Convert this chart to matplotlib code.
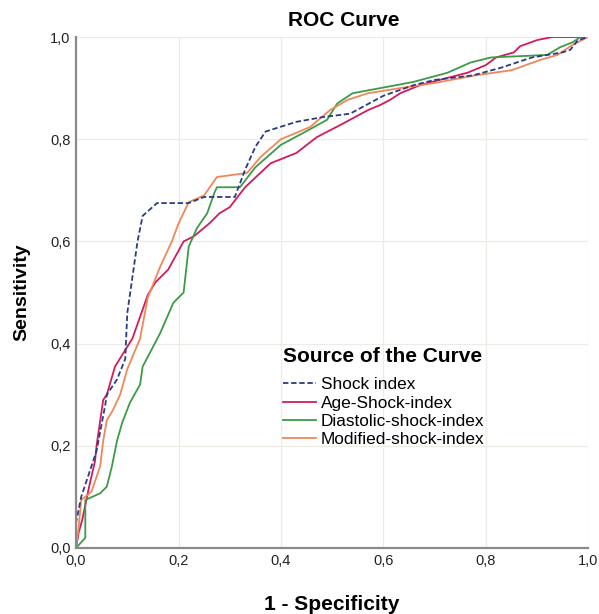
import matplotlib
matplotlib.use("Agg")
import matplotlib.pyplot as plt
from matplotlib.ticker import FuncFormatter

plt.rcParams['font.family'] = ['Liberation Sans', 'DejaVu Sans']

# ROC points (1 - specificity, sensitivity)
shock_fpr = [0.0, 0.0, 0.01, 0.02, 0.04, 0.057, 0.06, 0.08, 0.096, 0.10, 0.11, 0.12, 0.13,
             0.158, 0.22, 0.25, 0.31, 0.33, 0.35, 0.37, 0.43, 0.48, 0.535, 0.6, 0.66, 0.70,
             0.775, 0.83, 0.89, 0.95, 0.965, 0.98, 1.0]
shock_tpr = [0.0, 0.05, 0.10, 0.13, 0.19, 0.28, 0.30, 0.33, 0.37, 0.46, 0.53, 0.60, 0.65,
             0.675, 0.675, 0.687, 0.687, 0.74, 0.785, 0.815, 0.834, 0.843, 0.85, 0.885, 0.906,
             0.916, 0.925, 0.94, 0.96, 0.97, 0.975, 0.994, 1.0]

age_fpr = [0.0, 0.005, 0.012, 0.027, 0.037, 0.04, 0.053, 0.06, 0.076, 0.11, 0.14, 0.155,
           0.18, 0.21, 0.23, 0.26, 0.28, 0.30, 0.33, 0.38, 0.43, 0.47, 0.52, 0.57, 0.594,
           0.613, 0.633, 0.672, 0.725, 0.764, 0.8, 0.82, 0.855, 0.867, 0.90, 0.93, 1.0]
age_tpr = [0.0, 0.03, 0.055, 0.127, 0.17, 0.20, 0.29, 0.30, 0.355, 0.41, 0.495, 0.52,
           0.545, 0.60, 0.61, 0.635, 0.655, 0.667, 0.706, 0.753, 0.773, 0.804, 0.83, 0.857, 0.867,
           0.877, 0.89, 0.906, 0.92, 0.93, 0.945, 0.96, 0.97, 0.982, 0.994, 1.0, 1.0]

dia_fpr = [0.0, 0.018, 0.018, 0.047, 0.06, 0.07, 0.08, 0.09, 0.105, 0.125, 0.13, 0.164,
           0.19, 0.21, 0.22, 0.236, 0.256, 0.27, 0.275, 0.32, 0.35, 0.40, 0.443, 0.49, 0.51,
           0.54, 0.594, 0.658, 0.725, 0.77, 0.81, 0.92, 0.945, 0.97, 0.985, 1.0]
dia_tpr = [0.0, 0.02, 0.094, 0.107, 0.12, 0.16, 0.21, 0.245, 0.284, 0.32, 0.355, 0.42,
           0.48, 0.50, 0.59, 0.626, 0.655, 0.695, 0.706, 0.706, 0.745, 0.789, 0.812, 0.838, 0.87,
           0.89, 0.90, 0.912, 0.93, 0.95, 0.96, 0.965, 0.98, 0.99, 1.0, 1.0]

mod_fpr = [0.0, 0.005, 0.01, 0.03, 0.047, 0.053, 0.06, 0.072, 0.086, 0.1, 0.125, 0.14,
           0.164, 0.187, 0.20, 0.22, 0.25, 0.275, 0.334, 0.36, 0.40, 0.457, 0.496, 0.53,
           0.57, 0.633, 0.70, 0.78, 0.85, 0.906, 0.94, 0.97, 1.0]
mod_tpr = [0.0, 0.04, 0.094, 0.11, 0.16, 0.21, 0.25, 0.27, 0.30, 0.35, 0.41, 0.49,
           0.55, 0.60, 0.635, 0.677, 0.69, 0.726, 0.734, 0.765, 0.80, 0.824, 0.857, 0.877,
           0.89, 0.90, 0.91, 0.925, 0.935, 0.955, 0.965, 0.985, 1.0]

ticks = [0.0, 0.2, 0.4, 0.6, 0.8, 1.0]

fig = plt.figure(figsize=(5.99, 6.14), dpi=100)
ax = fig.add_axes([0.127, 0.1075, 0.855, 0.8322])

ax.plot(age_fpr, age_tpr, '-', color='#d41a5c', linewidth=1.3, label='Age-Shock-index')
ax.plot(dia_fpr, dia_tpr, '-', color='#3d9a48', linewidth=1.3, label='Diastolic-shock-index')
ax.plot(mod_fpr, mod_tpr, '-', color='#f0875a', linewidth=1.3, label='Modified-shock-index')
ax.plot(shock_fpr, shock_tpr, '--', color='#2a3c82', linewidth=1.3, dashes=(3, 1.5),
        label='Shock index')

ax.set_xlim(0, 1)
ax.set_ylim(0, 1)
ax.set_xticks(ticks)
ax.set_yticks(ticks)
fmt = FuncFormatter(lambda v, p: '{:.1f}'.format(v).replace('.', ','))
ax.xaxis.set_major_formatter(fmt)
ax.yaxis.set_major_formatter(fmt)
ax.tick_params(length=0, labelsize=10.5, colors='#222222', pad=4)
ax.grid(True, color='#ecebe4', linewidth=0.9)
ax.set_axisbelow(True)
for side in ['top', 'right']:
    ax.spines[side].set_visible(False)
for side in ['left', 'bottom']:
    ax.spines[side].set_color('#8a8a8a')
    ax.spines[side].set_linewidth(1.6)

fig.text(344 / 599, 1 - 21 / 614, 'ROC Curve', fontsize=15, fontweight='bold',
         ha='center', va='center')
ax.set_xlabel('1 - Specificity', fontsize=15, fontweight='bold', labelpad=20)
ax.set_ylabel('Sensitivity', fontsize=14, fontweight='bold', labelpad=14)

handles, labels = ax.get_legend_handles_labels()
order = [3, 0, 1, 2]
leg = ax.legend([handles[i] for i in order], [labels[i] for i in order],
                title='Source of the Curve', loc='upper left',
                bbox_to_anchor=(0.405, 0.393), frameon=False, fontsize=12.4,
                borderaxespad=0, borderpad=0,
                handlelength=1.9, handletextpad=0.25, labelspacing=0.19)
leg.get_title().set_fontsize(15)
leg.get_title().set_fontweight('bold')
leg._legend_box.align = 'left'
leg._legend_box.sep = 8

fig.savefig('out.png', dpi=100)
